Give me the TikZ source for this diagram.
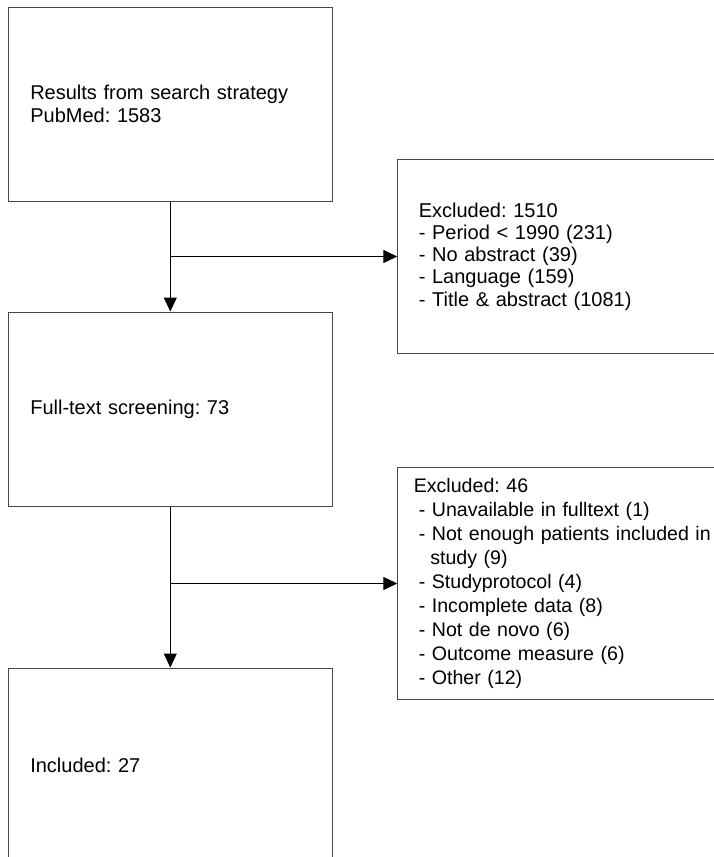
\documentclass[tikz,border=0pt]{standalone}
\usepackage{fontspec}
\setmainfont{Liberation Sans}
\usepackage{tikz}
\usetikzlibrary{arrows.meta,positioning}
\definecolor{boxgray}{RGB}{70,70,70}
\frenchspacing

\begin{document}
\begin{tikzpicture}[
  node distance=110pt and 65pt,
  stagebox/.style={
    rectangle, draw=boxgray, line width=1pt,
    text width=280pt, align=left,
    inner xsep=22pt, inner ysep=0pt, minimum height=194pt,
    font=\fontsize{20}{22.4}\selectfont
  },
  exclbox/.style={
    rectangle, draw=boxgray, line width=1pt,
    text width=330pt, align=left,
    inner xsep=21pt, inner ysep=0pt, minimum height=194pt,
    font=\fontsize{20}{22.3}\selectfont
  },
  arr/.style={-{Triangle[length=14pt,width=13pt]}, line width=1pt, color=black}
]
\useasboundingbox (0,0) rectangle (713pt,-857pt);

\node[stagebox] (search) at (170.3pt,-104pt)
  {Results from search strategy\\PubMed: 1583};

\node[stagebox, below=110pt of search] (screen)
  {Full-text screening: 73};

\node[stagebox, below=161pt of screen] (incl)
  {Included: 27};

\coordinate[below=55pt of search] (split1);
\coordinate[below=77pt of screen] (split2);

\node[exclbox, right=227pt of split1] (excl1)
  {Excluded: 1510\\
   - Period < 1990 (231)\\
   - No abstract (39)\\
   - Language (159)\\
   - Title \& abstract (1081)};

\node[exclbox, right=227pt of split2, inner xsep=16pt, minimum height=232pt,
      font=\fontsize{19.6}{24}\selectfont] (excl2)
  {Excluded: 46\\
   \hspace*{5pt}- Unavailable in fulltext (1)\\
   \hspace*{5pt}- Not enough patients included in\\
   \hspace*{16.5pt}study (9)\\
   \hspace*{5pt}- Studyprotocol (4)\\
   \hspace*{5pt}- Incomplete data (8)\\
   \hspace*{5pt}- Not de novo (6)\\
   \hspace*{5pt}- Outcome measure (6)\\
   \hspace*{5pt}- Other (12)};

\draw[arr] (search) -- (screen);
\draw[arr] (split1) -- (excl1);
\draw[arr] (screen) -- (incl);
\draw[arr] (split2) -- (excl2);

\end{tikzpicture}
\end{document}
